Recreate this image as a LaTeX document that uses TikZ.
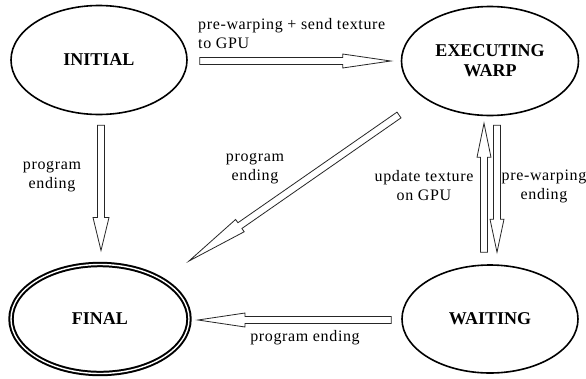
\documentclass[tikz,border=0pt]{standalone}
\usepackage{fontspec}
\setmainfont{Liberation Serif}
\newfontfamily\lblfont[LetterSpace=4]{Liberation Serif}
\usetikzlibrary{calc,shapes.geometric}
\tikzset{
  state/.style={ellipse,draw=black,line width=1.6pt,inner sep=0pt,
    font=\fontsize{18}{20}\selectfont\bfseries,align=center},
  finalstate/.style={state,line width=2pt,double=white,double distance=1.4pt},
  lbl/.style={font=\lblfont\fontsize{16}{19}\selectfont,inner sep=0pt,align=center},
  blockarr/.style={draw=black!85,line width=0.8pt,fill=white,line join=miter},
}
% #1 start, #2 tip, #3 head length, #4 head half width
\newcommand\hollowarrow[4]{%
  \coordinate (ha-n) at ($(#2)!#3!(#1)$);
  \draw[blockarr] ($(#1)!3.5pt!90:(#2)$) -- ($(ha-n)!3.5pt!90:(#2)$)
    -- ($(ha-n)!#4!90:(#2)$) -- (#2) -- ($(ha-n)!#4!-90:(#2)$)
    -- ($(ha-n)!3.5pt!-90:(#2)$) -- ($(#1)!3.5pt!-90:(#2)$) -- cycle;}
\begin{document}
\begin{tikzpicture}[x=1pt,y=-1pt]
\useasboundingbox[fill=white] (0,0) rectangle (586,378);
\node[state,minimum width=176pt,minimum height=109pt] (init) at (99,60) {INITIAL};
\node[state,minimum width=177pt,minimum height=109pt] (exec) at (490,61) {EXECUTING\\[0pt]WARP};
\node[finalstate,minimum width=178pt,minimum height=109pt] (final) at (100,319) {FINAL};
\node[state,minimum width=176pt,minimum height=108pt] (wait) at (490,319) {WAITING};

% arrow end points
\coordinate (a1s) at ($(init.east)+(12,1)$);
\coordinate (a1e) at ($(exec.west)+(-10,0)$);
\coordinate (a2s) at ($(init.south)+(2,10)$);
\coordinate (a2e) at ($(final.north)+(1,-13)$);
\coordinate (a3s) at (399,115);
\coordinate (a3e) at (189,261);
\coordinate (a4s) at ($(wait.north)+(-6,-12)$);
\coordinate (a4e) at ($(exec.south)+(-6,7)$);
\coordinate (a5s) at ($(exec.south)+(7,9)$);
\coordinate (a5e) at ($(wait.north)+(7,-12)$);
\coordinate (a6s) at ($(wait.west)+(-10,1)$);
\coordinate (a6e) at ($(final.east)+(8,1)$);

\hollowarrow{a1s}{a1e}{48pt}{7pt}
\hollowarrow{a2s}{a2e}{33pt}{8pt}
\hollowarrow{a3s}{a3e}{62pt}{7.5pt}
\hollowarrow{a4s}{a4e}{34pt}{7pt}
\hollowarrow{a5s}{a5e}{33pt}{7pt}
\hollowarrow{a6s}{a6e}{47pt}{7pt}

\node[lbl,align=left,anchor=west] (l1) at (198,34) {pre-warping + send texture\\to GPU};
\node[lbl] (l2) at (52,177) {program\\ending};
\node[lbl] (l3) at (255,169) {program\\ending};
\node[lbl] (l4) at (424,186) {update texture\\on GPU};
\node[lbl] (l5) at (544,186) {pre-warping\\ending};
\node[lbl] (l6) at (305,338) {program ending};
\end{tikzpicture}
\end{document}
